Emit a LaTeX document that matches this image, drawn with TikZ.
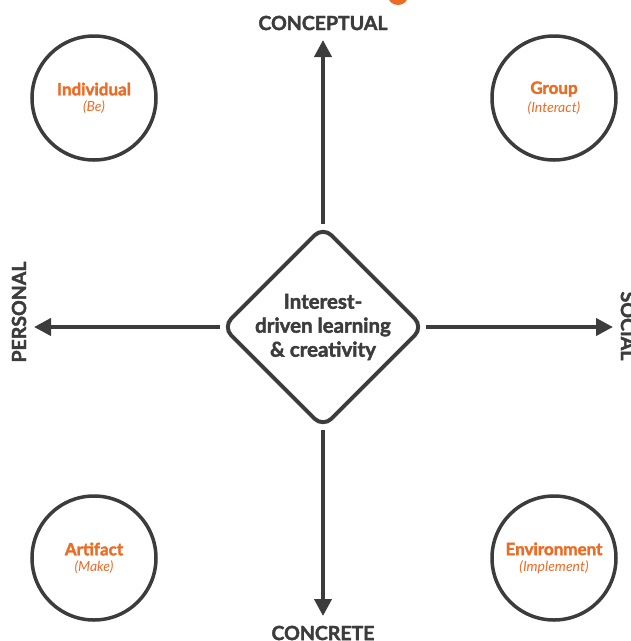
\documentclass[tikz,border=0pt]{standalone}
\usepackage{fontspec}
\setmainfont{Lato}[BoldFeatures={FakeBold=2}]
\usetikzlibrary{arrows.meta,shapes.geometric}
\definecolor{dk}{HTML}{3C3C3C}
\definecolor{org}{HTML}{EC6B25}
\tikzset{
  axis/.style={draw=dk, line width=4pt, -{Triangle[length=17pt,width=17pt]}},
  ring/.style={circle, draw=dk, line width=3.5pt, minimum size=124pt, inner sep=0pt, align=center},
  axlabel/.style={text=dk, font=\bfseries\fontsize{19.5}{19.5}\selectfont},
  hub/.style={diamond, draw=dk, line width=4pt, rounded corners=12pt, minimum width=197pt, minimum height=195pt, inner sep=0pt, align=center, text=dk, font=\bfseries\fontsize{20.5}{24}\selectfont, fill=white}
}
\newcommand{\ringtext}[2]{{\color{org}\bfseries\fontsize{17}{19}\selectfont #1}\\[4pt]{\color{org}\itshape\fontsize{14}{16}\selectfont (#2)}}
\begin{document}
\begin{tikzpicture}[x=1pt,y=-1pt]
\useasboundingbox (0,0) rectangle (631,641);
\begin{scope}
\clip (0,0) rectangle (631,641);
\fill[org] (398,-4) ellipse (10 and 9);
\node[axlabel, rotate=-90] (soc) at (628,326) {SOCIAL};
\end{scope}
\node[hub] (c) at (323,327) {Interest-\\driven learning\\\& creativity};
\coordinate (n) at (323,40);
\coordinate (s) at (323,616);
\coordinate (w) at (34,327);
\coordinate (e) at (613,327);
\draw[axis] (c.north) -- (n);
\draw[axis] (c.south) -- (s);
\draw[axis] (c.west) -- (w);
\draw[axis] (c.east) -- (e);
\node[axlabel] (con) at (323,23) {CONCEPTUAL};
\node[axlabel] (cre) at (323,633) {CONCRETE};
\node[axlabel, rotate=90] (per) at (19,312) {PERSONAL};
\node[ring] (ind) at (94,98) {\ringtext{Individual}{Be}};
\node[ring] (grp) at (554,98) {\ringtext{Group}{Interact}};
\node[ring] (art) at (94,558) {\ringtext{Artifact}{Make}};
\node[ring] (env) at (554,558) {\ringtext{Environment}{Implement}};
\end{tikzpicture}
\end{document}
